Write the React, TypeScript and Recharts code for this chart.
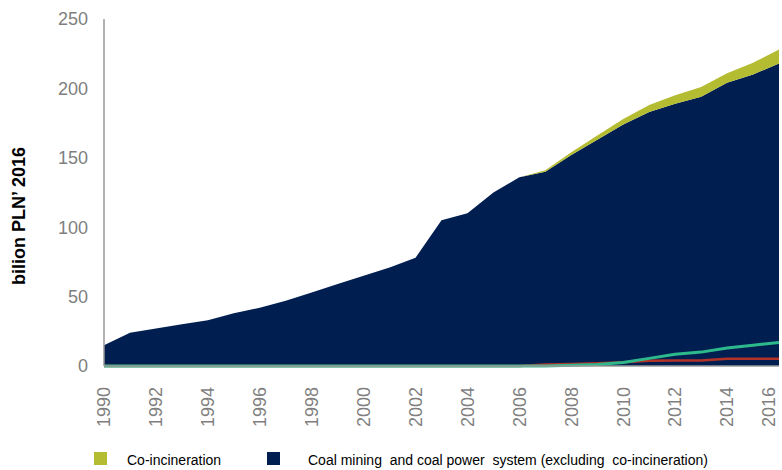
import React from "react";
import { ComposedChart, Area, Line, XAxis, YAxis } from "recharts";

const years = [
  1990, 1991, 1992, 1993, 1994, 1995, 1996, 1997, 1998, 1999, 2000, 2001, 2002,
  2003, 2004, 2005, 2006, 2007, 2008, 2009, 2010, 2011, 2012, 2013, 2014, 2015,
  2016,
];

// billion PLN'2016
const coalMining = [
  15, 24, 27, 30, 33, 38, 42, 47, 53, 59, 65, 71, 78, 105, 110, 125, 136, 140,
  152, 163, 174, 183, 189, 194, 204, 210, 218,
];
const coIncineration = [
  0, 0, 0, 0, 0, 0, 0, 0, 0, 0, 0, 0, 0, 0, 0, 0, 0, 1, 2, 3, 4, 5, 6, 7, 7,
  8.5, 10,
];
const tealLine = [
  0, 0, 0, 0, 0, 0, 0, 0, 0, 0, 0, 0, 0, 0, 0, 0, 0, 0, 0.5, 1, 2.5, 5.5, 8.5,
  10, 13, 15, 17,
];
const redLine = [
  0, 0, 0, 0, 0, 0, 0, 0, 0, 0, 0, 0, 0, 0, 0, 0, 0, 1, 1.5, 2, 2.7, 3.7, 4, 4,
  5.2, 5.3, 5.3,
];

const xTicks = [
  1990, 1992, 1994, 1996, 1998, 2000, 2002, 2004, 2006, 2008, 2010, 2012, 2014,
  2016,
];
const yTicks = [0, 50, 100, 150, 200, 250];

const legendItems = [
  { label: "Co-incineration", color: "#b4bc32" },
  {
    label: "Coal mining  and coal power  system (excluding  co-incineration)",
    color: "#001f50",
  },
];

const data = years.map((year, i) => ({
  year,
  coal: coalMining[i],
  coInc: coIncineration[i],
  teal: tealLine[i],
  red: redLine[i],
}));

const FONT = "'Liberation Sans', Arial, sans-serif";

const XTick = (props: any) => {
  const { y, payload } = props;
  // keep the last label inside the page edge
  const x = Math.min(props.x, 769);
  return (
    <text
      x={x}
      y={y}
      transform={`rotate(-90, ${x}, ${y})`}
      textAnchor="end"
      dy="0.35em"
      fill="#7f7f7f"
      fontSize={18}
      fontFamily={FONT}
    >
      {payload.value}
    </text>
  );
};

const YTitle = () => (
  <text
    x={19}
    y={216}
    transform="rotate(-90, 19, 216)"
    textAnchor="middle"
    dy="0.35em"
    fontSize={18}
    fontWeight={700}
    fontFamily={FONT}
    fill="#000"
  >
    bilion PLN’ 2016
  </text>
);

const legendPos = [
  { box: 94, text: 127 },
  { box: 267, text: 308 },
];

export default function App() {
  return (
    <div
      style={{
        position: "absolute",
        left: 0,
        top: 0,
        width: 782,
        height: 470,
        background: "#fff",
      }}
    >
      <ComposedChart
        width={782}
        height={470}
        data={data}
        margin={{ top: 19, right: 3, bottom: 44, left: 0 }}
      >
        <XAxis
          dataKey="year"
          type="number"
          domain={[1990, 2016]}
          ticks={xTicks}
          interval={0}
          height={60}
          tickLine={false}
          tickSize={0}
          tickMargin={21}
          axisLine={{ stroke: "#9a9a9a", strokeWidth: 1.5 }}
          tick={<XTick />}
        />
        <YAxis
          domain={[0, 250]}
          ticks={yTicks}
          width={104}
          tickLine={false}
          tickSize={0}
          tickMargin={16}
          axisLine={{ stroke: "#9a9a9a", strokeWidth: 1.5 }}
          tick={{ fill: "#7f7f7f", fontSize: 18, fontFamily: FONT }}
          label={<YTitle />}
        />
        <Area
          type="linear"
          dataKey="coal"
          stackId="a"
          fill="#001f50"
          fillOpacity={1}
          stroke="none"
          isAnimationActive={false}
        />
        <Area
          type="linear"
          dataKey="coInc"
          stackId="a"
          fill="#b4bc32"
          fillOpacity={1}
          stroke="none"
          isAnimationActive={false}
        />
        <Line
          type="linear"
          dataKey="red"
          stroke="#b33228"
          strokeWidth={2.5}
          dot={false}
          isAnimationActive={false}
        />
        <Line
          type="linear"
          dataKey="teal"
          stroke="#2eb98c"
          strokeWidth={3}
          dot={false}
          isAnimationActive={false}
        />
      </ComposedChart>
      {legendItems.map((item, i) => (
        <React.Fragment key={item.label}>
          <div
            style={{
              position: "absolute",
              left: legendPos[i].box,
              top: 452,
              width: 13,
              height: 13,
              background: item.color,
            }}
          />
          <div
            style={{
              position: "absolute",
              left: legendPos[i].text,
              top: 452,
              fontSize: 14,
              lineHeight: "16px",
              fontFamily: FONT,
              whiteSpace: "pre",
              color: "#000",
            }}
          >
            {item.label}
          </div>
        </React.Fragment>
      ))}
    </div>
  );
}
